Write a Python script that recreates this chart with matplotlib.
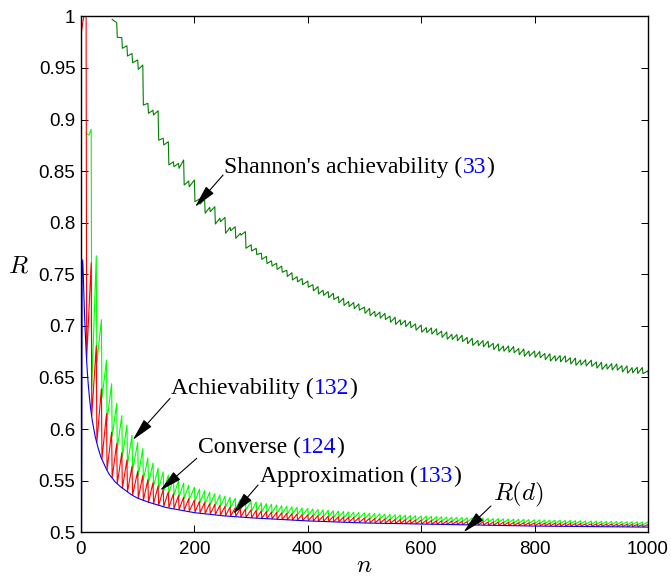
import matplotlib
matplotlib.use('Agg')
import matplotlib.pyplot as plt

plt.rcParams['mathtext.fontset'] = 'cm'

# blocklength positions where floor(n*d) steps (d = 0.11)
tooth_n = [9, 18, 27, 36, 45, 54, 63, 72, 81, 90,
           100, 109, 118, 127, 136, 145, 154, 163, 172, 181,
           190, 200, 209, 218, 227, 236, 245, 254, 263, 272,
           281, 290, 300, 309, 318, 327, 336, 345, 354, 363,
           372, 381, 390, 400, 409, 418, 427, 436, 445, 454,
           463, 472, 481, 490, 500, 509, 518, 527, 536, 545,
           554, 563, 572, 581, 590, 600, 609, 618, 627, 636,
           645, 654, 663, 672, 681, 690, 700, 709, 718, 727,
           736, 745, 754, 763, 772, 781, 790, 800, 809, 818,
           827, 836, 845, 854, 863, 872, 881, 890, 900, 909,
           918, 927, 936, 945, 954, 963, 972, 981, 990, 1000]

# converse (red): value just before each step and just after
red_head_n = [1, 4]
red_head_R = [0.986, 0.997]
red_peak = [1.010, 0.761, 0.681, 0.639, 0.615, 0.597, 0.586, 0.577, 0.570, 0.564,
            0.559, 0.555, 0.551, 0.548, 0.545, 0.5414, 0.5392, 0.5372, 0.5356, 0.5340,
            0.5325, 0.5311, 0.5299, 0.5288, 0.5278, 0.5269, 0.5260, 0.5252, 0.5244, 0.5237,
            0.5230, 0.5224, 0.5217, 0.5212, 0.5207, 0.5201, 0.5196, 0.5192, 0.5188, 0.5183,
            0.5180, 0.5176, 0.5172, 0.5168, 0.5165, 0.5161, 0.5158, 0.5156, 0.5153, 0.5150,
            0.5148, 0.5145, 0.5143, 0.5140, 0.5138, 0.5135, 0.5133, 0.5132, 0.5130, 0.5127,
            0.5125, 0.5124, 0.5122, 0.5120, 0.5119, 0.5117, 0.5115, 0.5114, 0.5112, 0.5111,
            0.5109, 0.5109, 0.5107, 0.5106, 0.5104, 0.5103, 0.5102, 0.5101, 0.5099, 0.5098,
            0.5098, 0.5096, 0.5095, 0.5095, 0.5093, 0.5093, 0.5091, 0.5090, 0.5090, 0.5088,
            0.5088, 0.5087, 0.5086, 0.5085, 0.5085, 0.5084, 0.5083, 0.5082, 0.5082, 0.5080,
            0.5080, 0.5079, 0.5079, 0.5077, 0.5077, 0.5076, 0.5076, 0.5075, 0.5074, 0.5074]
red_trough = [0.668, 0.613, 0.587, 0.571, 0.5605, 0.553, 0.547, 0.5428, 0.5392, 0.536,
              0.533, 0.5309, 0.5293, 0.5276, 0.5262, 0.5253, 0.5241, 0.5230, 0.5221, 0.5212,
              0.5204, 0.5196, 0.5189, 0.5183, 0.5177, 0.5172, 0.5167, 0.5162, 0.5158, 0.5154,
              0.5150, 0.5146, 0.5142, 0.5139, 0.5136, 0.5133, 0.5130, 0.5127, 0.5125, 0.5122,
              0.5120, 0.5118, 0.5115, 0.5113, 0.5111, 0.5109, 0.5107, 0.5106, 0.5104, 0.5102,
              0.5101, 0.5099, 0.5098, 0.5096, 0.5095, 0.5093, 0.5092, 0.5091, 0.5090, 0.5088,
              0.5087, 0.5086, 0.5085, 0.5084, 0.5083, 0.5082, 0.5081, 0.5080, 0.5079, 0.5078,
              0.5077, 0.5077, 0.5076, 0.5075, 0.5074, 0.5073, 0.5073, 0.5072, 0.5071, 0.5070,
              0.5070, 0.5069, 0.5068, 0.5068, 0.5067, 0.5067, 0.5066, 0.5065, 0.5065, 0.5064,
              0.5064, 0.5063, 0.5063, 0.5062, 0.5062, 0.5061, 0.5061, 0.5060, 0.5060, 0.5059,
              0.5059, 0.5058, 0.5058, 0.5057, 0.5057, 0.5056, 0.5056, 0.5056, 0.5055, 0.5055]

# achievability (bright green), starts at the second step
green_head_n = [10, 14]
green_head_R = [0.886, 0.885]
green_peak = [0.8905, 0.768, 0.706, 0.667, 0.644, 0.625, 0.613, 0.604, 0.594,
              0.587, 0.581, 0.572, 0.567, 0.5621, 0.5586, 0.5554, 0.5526, 0.5501, 0.5478,
              0.5457, 0.5436, 0.5418, 0.5403, 0.5388, 0.5375, 0.5362, 0.5350, 0.5339, 0.5329,
              0.5319, 0.5310, 0.5300, 0.5293, 0.5285, 0.5278, 0.5271, 0.5264, 0.5258, 0.5252,
              0.5247, 0.5242, 0.5236, 0.5231, 0.5226, 0.5221, 0.5217, 0.5213, 0.5209, 0.5205,
              0.5202, 0.5198, 0.5195, 0.5191, 0.5188, 0.5184, 0.5182, 0.5179, 0.5176, 0.5173,
              0.5170, 0.5168, 0.5166, 0.5163, 0.5161, 0.5159, 0.5157, 0.5154, 0.5152, 0.5150,
              0.5148, 0.5147, 0.5145, 0.5143, 0.5141, 0.5139, 0.5138, 0.5136, 0.5134, 0.5132,
              0.5132, 0.5130, 0.5128, 0.5127, 0.5126, 0.5125, 0.5123, 0.5121, 0.5121, 0.5119,
              0.5118, 0.5117, 0.5116, 0.5114, 0.5114, 0.5112, 0.5112, 0.5110, 0.5109, 0.5108,
              0.5107, 0.5106, 0.5105, 0.5104, 0.5103, 0.5102, 0.5101, 0.5101, 0.5100, 0.5099]
green_trough = [0.640, 0.664, 0.630, 0.608, 0.593, 0.581, 0.5725, 0.5656, 0.560,
                0.5548, 0.551, 0.5475, 0.5447, 0.5421, 0.5400, 0.5379, 0.5360, 0.5344, 0.5329,
                0.5315, 0.5301, 0.5289, 0.5279, 0.5269, 0.5260, 0.5252, 0.5244, 0.5237, 0.5230,
                0.5223, 0.5217, 0.5210, 0.5205, 0.5200, 0.5195, 0.5191, 0.5186, 0.5182, 0.5178,
                0.5174, 0.5171, 0.5166, 0.5163, 0.5160, 0.5157, 0.5154, 0.5151, 0.5148, 0.5146,
                0.5143, 0.5141, 0.5139, 0.5136, 0.5134, 0.5131, 0.5130, 0.5128, 0.5126, 0.5123,
                0.5122, 0.5120, 0.5119, 0.5117, 0.5115, 0.5114, 0.5112, 0.5111, 0.5109, 0.5108,
                0.5106, 0.5106, 0.5104, 0.5103, 0.5101, 0.5100, 0.5099, 0.5098, 0.5097, 0.5095,
                0.5095, 0.5094, 0.5092, 0.5092, 0.5091, 0.5090, 0.5089, 0.5088, 0.5087, 0.5086,
                0.5086, 0.5084, 0.5084, 0.5083, 0.5082, 0.5081, 0.5081, 0.5080, 0.5079, 0.5078,
                0.5078, 0.5077, 0.5076, 0.5075, 0.5075, 0.5074, 0.5074, 0.5073, 0.5072, 0.5072]

# Shannon's achievability (dark green), starts at n = 55
shannon_head_n = [55]
shannon_head_R = [0.997]
shannon_peak = [0.9938, 0.9793, 0.9715, 0.964,
                0.9577, 0.9528, 0.9157, 0.909, 0.9085, 0.8818, 0.8785, 0.859, 0.8575, 0.8608,
                0.8404, 0.8414, 0.823, 0.8227, 0.8149, 0.8155, 0.8043, 0.8052, 0.7955, 0.7961,
                0.7897, 0.7913, 0.7786, 0.7752, 0.7705, 0.7674, 0.7630, 0.7607, 0.7580, 0.7539,
                0.7515, 0.7477, 0.7459, 0.7435, 0.7400, 0.7380, 0.7346, 0.7333, 0.7316, 0.7284,
                0.7268, 0.7237, 0.7227, 0.7213, 0.7182, 0.7169, 0.7141, 0.7134, 0.7122, 0.7095,
                0.7084, 0.7059, 0.7053, 0.7043, 0.7019, 0.7008, 0.6984, 0.6980, 0.6972, 0.6949,
                0.6941, 0.6919, 0.6916, 0.6909, 0.6888, 0.6881, 0.6859, 0.6858, 0.6852, 0.6831,
                0.6826, 0.6805, 0.6805, 0.6800, 0.6781, 0.6776, 0.6757, 0.6756, 0.6752, 0.6733,
                0.6730, 0.6711, 0.6712, 0.6709, 0.6691, 0.6688, 0.6670, 0.6672, 0.6668, 0.6651,
                0.6648, 0.6631, 0.6634, 0.6631, 0.6614, 0.6612, 0.6595, 0.6599, 0.6597, 0.6565]
shannon_trough = [0.9797, 0.969, 0.9615, 0.955,
                  0.9486, 0.914, 0.906, 0.9044, 0.880, 0.8753, 0.856, 0.8543, 0.8527, 0.8365,
                  0.8349, 0.8204, 0.818, 0.8091, 0.8107, 0.7987, 0.801, 0.7897, 0.7923, 0.7849,
                  0.788, 0.7752, 0.7726, 0.7692, 0.7645, 0.7604, 0.7580, 0.7547, 0.7520, 0.7479,
                  0.7445, 0.7427, 0.7399, 0.7375, 0.7340, 0.7310, 0.7296, 0.7273, 0.7256, 0.7224,
                  0.7198, 0.7187, 0.7167, 0.7153, 0.7122, 0.7099, 0.7091, 0.7074, 0.7062, 0.7035,
                  0.7014, 0.7009, 0.6993, 0.6983, 0.6959, 0.6938, 0.6934, 0.6920, 0.6912, 0.6889,
                  0.6871, 0.6869, 0.6856, 0.6849, 0.6828, 0.6811, 0.6809, 0.6798, 0.6792, 0.6771,
                  0.6756, 0.6755, 0.6745, 0.6740, 0.6721, 0.6706, 0.6707, 0.6696, 0.6692, 0.6673,
                  0.6660, 0.6661, 0.6652, 0.6649, 0.6631, 0.6618, 0.6620, 0.6612, 0.6608, 0.6591,
                  0.6578, 0.6581, 0.6574, 0.6571, 0.6554, 0.6542, 0.6545, 0.6539, 0.6537, 0.6520]

# approximation (blue), smooth
blue_n = [1, 2, 3, 4, 5, 6, 7, 8, 9, 10, 11, 12, 13, 14, 15, 17, 20, 25, 30, 35,
          40, 45, 50, 60, 70, 80, 90, 100, 120, 150, 200, 250, 300, 400, 500, 600,
          700, 800, 900, 1000]
blue_R = [0.5, 0.75, 0.764, 0.75, 0.732, 0.715, 0.7005, 0.688, 0.676, 0.666,
          0.657, 0.649, 0.642, 0.636, 0.630, 0.620, 0.608, 0.593, 0.582, 0.573,
          0.567, 0.561, 0.556, 0.549, 0.544, 0.540, 0.536, 0.533, 0.529, 0.524,
          0.519, 0.516, 0.514, 0.511, 0.509, 0.508, 0.507, 0.506, 0.5055, 0.505]

xticks = [0, 200, 400, 600, 800, 1000]
yticks = [0.5, 0.55, 0.6, 0.65, 0.7, 0.75, 0.8, 0.85, 0.9, 0.95, 1.0]
ytick_labels = ['0.5', '0.55', '0.6', '0.65', '0.7', '0.75', '0.8', '0.85', '0.9', '0.95', '1']


def zigzag(head_n, head_R, steps, peaks, troughs):
    # the curve climbs to peak at a step, then drops at the next integer n
    xs, ys = list(head_n), list(head_R)
    for s, p, t in zip(steps, peaks, troughs):
        xs += [s, s + 1]
        ys += [p, t]
    return xs, ys


def label(ax, x, y, parts, size=17):
    font = dict(family='Liberation Serif', fontsize=size)
    t = ax.text(x, y, parts[0][0], color=parts[0][1], ha='left', va='baseline', **font)
    for s, c in parts[1:]:
        t = ax.annotate(s, xy=(1, 0), xycoords=t, ha='left', va='bottom', color=c, **font)


def arrow(ax, tail, tip):
    ax.annotate('', xy=tip, xytext=tail,
                arrowprops=dict(arrowstyle='-|>,head_length=0.7,head_width=0.16',
                                color='k', lw=0.8, shrinkA=0, shrinkB=0,
                                mutation_scale=20))


fig = plt.figure(figsize=(6.71, 5.79), dpi=100)
ax = fig.add_axes([0.1207, 0.0807, 0.845, 0.8911])

gx, gy = zigzag(green_head_n, green_head_R, tooth_n[1:], green_peak, green_trough)
rx, ry = zigzag(red_head_n, red_head_R, tooth_n, red_peak, red_trough)
sx, sy = zigzag(shannon_head_n, shannon_head_R, tooth_n[6:], shannon_peak, shannon_trough)

ax.plot(gx, gy, color=(0, 1, 0), lw=0.8)
ax.plot(rx, ry, color=(1, 0, 0), lw=0.8)
ax.plot(blue_n, blue_R, color=(0, 0, 1), lw=0.8)
ax.plot(sx, sy, color=(0, 0.5, 0), lw=0.8)

ax.set_xlim(0, 1000)
ax.set_ylim(0.5, 1)
ax.set_xticks(xticks)
ax.set_yticks(yticks)
ax.set_yticklabels(ytick_labels)
for lab in ax.get_xticklabels() + ax.get_yticklabels():
    lab.set_family('Liberation Sans')
    lab.set_fontsize(13.5)
ax.tick_params(direction='in', length=5, width=0.7, top=True, right=True)
ax.tick_params(axis='x', pad=6)
ax.tick_params(axis='y', pad=4)
for sp in ax.spines.values():
    sp.set_linewidth(1.0)

ax.set_xlabel('$n$', fontsize=18)
ax.xaxis.set_label_coords(0.5, -0.04)
ax.set_ylabel('$R$', fontsize=18, rotation=0, ha='center', va='center')
ax.yaxis.set_label_coords(-0.111, 0.518)

blue = (0, 0, 1)
label(ax, 253, 0.848, [("Shannon's achievability (", 'k'), ('33', blue), (')', 'k')])
arrow(ax, (250.6, 0.8462), (201.2, 0.8153))

label(ax, 158.8, 0.634, [('Achievability (', 'k'), ('132', blue), (')', 'k')])
arrow(ax, (157.1, 0.6298), (91.2, 0.5894))

label(ax, 206.5, 0.5766, [('Converse (', 'k'), ('124', blue), (')', 'k')])
arrow(ax, (204.2, 0.5717), (139.4, 0.5403))

label(ax, 315.9, 0.549, [('Approximation (', 'k'), ('133', blue), (')', 'k')])
arrow(ax, (312.3, 0.5458), (268.2, 0.5177))

ax.text(727, 0.5306, '$R(d)$', fontsize=18, ha='left', va='baseline')
arrow(ax, (723, 0.5255), (674.6, 0.5))

fig.savefig('out.png', dpi=100)
